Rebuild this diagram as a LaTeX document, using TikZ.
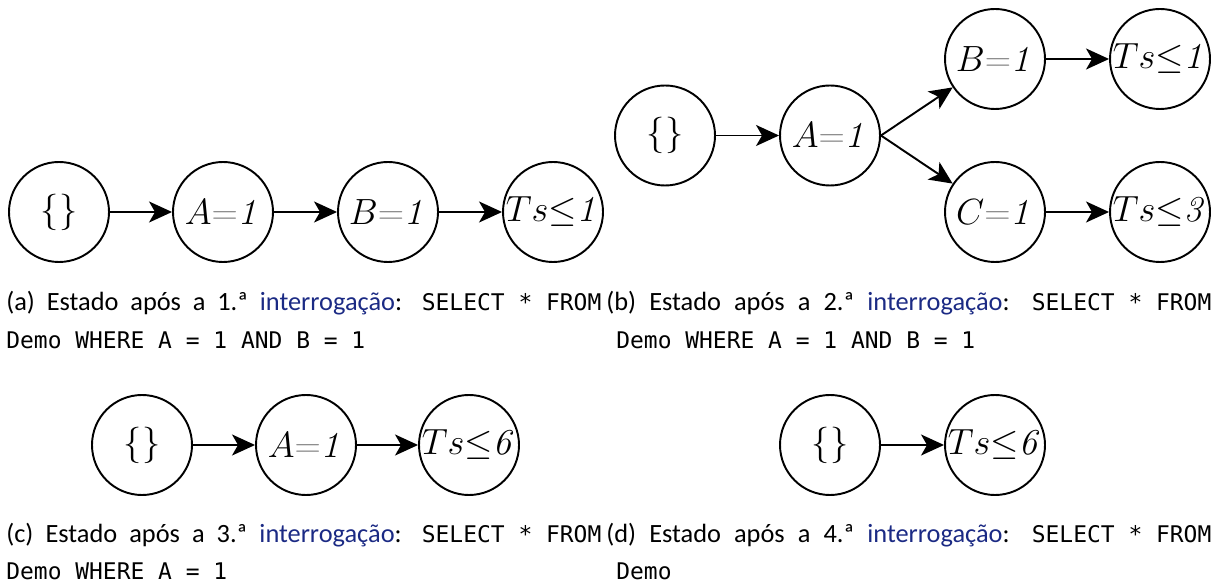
\documentclass[tikz,border=0pt]{standalone}
\usepackage{amsmath}
\usepackage[no-math]{fontspec}
\setmainfont{Carlito}
\setmonofont[Scale=0.87]{DejaVu Sans Mono}
\usepackage{tikz}
\usepackage{xcolor}
\usetikzlibrary{arrows.meta}
\definecolor{Link}{HTML}{1B2A84}
\definecolor{EqGray}{HTML}{8A8A8A}
\newcommand{\eqg}{{\color{EqGray}=}}

\begin{document}
\begin{tikzpicture}[
  state/.style={circle,draw,line width=1.1pt,minimum size=2cm,inner sep=0pt,font=\fontsize{20.5}{24}\selectfont},
  subcap/.style={anchor=base west,inner sep=0pt,text width=11.9cm,align=justify,font=\fontsize{15}{21.6}\selectfont},
  arrow/.style={-{Stealth[length=4.6mm,width=4.2mm,inset=1.2mm]},line width=1.1pt}
]
\useasboundingbox (0,0) rectangle (24.28,11.72);
\node[state] (a0) at (1.18,7.48) {$\{\}$};
\node[state] (a1) at (4.46,7.48) {$A\eqg\mathit{1}$};
\node[state] (a2) at (7.76,7.48) {$B\eqg\mathit{1}$};
\node[state] (a3) at (11.06,7.48) {$Ts{\leq}\mathit{1}$};
\draw[arrow] (a0) -- (a1);
\draw[arrow] (a1) -- (a2);
\draw[arrow] (a2) -- (a3);
\node[state] (b0) at (13.30,9.01) {$\{\}$};
\node[state] (b1) at (16.60,9.01) {$A\eqg\mathit{1}$};
\node[state] (b2) at (19.90,10.54) {$B\eqg\mathit{1}$};
\node[state] (b3) at (23.20,10.54) {$Ts{\leq}\mathit{1}$};
\node[state] (b4) at (19.90,7.48) {$C\eqg\mathit{1}$};
\node[state] (b5) at (23.20,7.48) {$Ts{\leq}\mathit{3}$};
\draw[arrow] (b0) -- (b1);
\draw[arrow] (b1.east) -- (b2);
\draw[arrow] (b1.east) -- (b4);
\draw[arrow] (b2) -- (b3);
\draw[arrow] (b4) -- (b5);
\node[state] (c0) at (2.84,2.82) {$\{\}$};
\node[state] (c1) at (6.12,2.82) {$A\eqg\mathit{1}$};
\node[state] (c2) at (9.38,2.82) {$Ts{\leq}\mathit{6}$};
\draw[arrow] (c0) -- (c1);
\draw[arrow] (c1) -- (c2);
\node[state] (d0) at (16.60,2.82) {$\{\}$};
\node[state] (d1) at (19.90,2.82) {$Ts{\leq}\mathit{6}$};
\draw[arrow] (d0) -- (d1);
\node[subcap] (ca) at (0.12,5.50) {(a) Estado após a 1.ª {\color{Link}interrogação}: \texttt{SELECT * FROM}\linebreak\texttt{Demo WHERE A = 1 AND B = 1}};
\node[subcap] (cb) at (12.32,5.50) {\hspace*{-0.2cm}(b) Estado após a 2.ª {\color{Link}interrogação}: \texttt{SELECT * FROM}\linebreak\texttt{Demo WHERE A = 1 AND B = 1}};
\node[subcap] (cc) at (0.12,0.88) {(c) Estado após a 3.ª {\color{Link}interrogação}: \texttt{SELECT * FROM}\linebreak\texttt{Demo WHERE A = 1}};
\node[subcap] (cd) at (12.32,0.88) {\hspace*{-0.2cm}(d) Estado após a 4.ª {\color{Link}interrogação}: \texttt{SELECT * FROM}\linebreak\texttt{Demo}};
\end{tikzpicture}
\end{document}
